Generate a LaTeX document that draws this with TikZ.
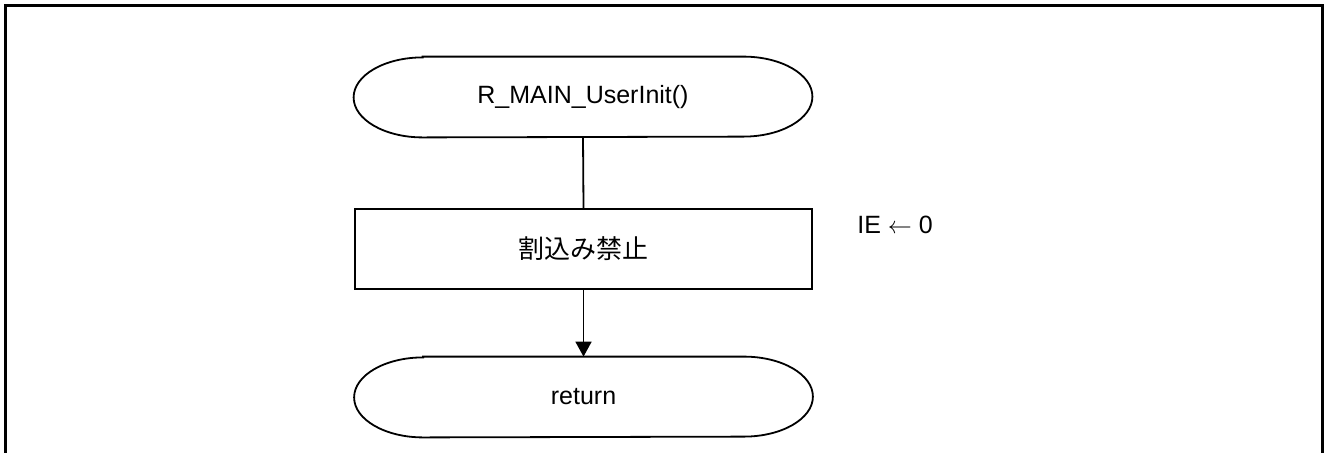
\documentclass[tikz,border=0pt]{standalone}
\usepackage{fontspec}
\setmainfont{Liberation Sans}
\newfontfamily\cjk{Noto Sans CJK JP}
\usetikzlibrary{arrows.meta}
\newcommand\termoutline[1]{%
  \draw[shapeline] ([xshift=34.5pt]#1.north west) -- ([xshift=-34.5pt]#1.north east)
    arc[start angle=90,end angle=-90,x radius=34.5pt,y radius=20pt]
    -- ([xshift=34.5pt]#1.south west)
    arc[start angle=270,end angle=90,x radius=34.5pt,y radius=20pt] -- cycle;}
\begin{document}
\begin{tikzpicture}[x=0.5pt,y=-0.5pt,
  shapeline/.style={draw=black,line width=0.9pt},
  terminal/.style={minimum width=229pt,minimum height=40pt,inner sep=0pt,font=\fontsize{12.5}{15}\selectfont},
  procbox/.style={shapeline,minimum width=228.5pt,minimum height=40pt,inner sep=0pt,font=\cjk\fontsize{13}{15}\selectfont},
  note/.style={inner sep=0pt,anchor=west,font=\fontsize{12.5}{15}\selectfont},
  conn/.style={draw=black,line width=0.9pt}]
\useasboundingbox (0,0) rectangle (1325,452);
\draw[line width=1.5pt] (5,460) -- (5,5) -- (1322,5) -- (1322,460);
\node[terminal] (start) at (583,97) {R\_MAIN\_UserInit()};
\termoutline{start}
\node[procbox] (dis) at (583.5,249) {割込み禁止};
\node[note] (ie) at (857,224.5) {IE \(\leftarrow\) 0};
\node[terminal] (ret) at (583.5,397) {return};
\termoutline{ret}
\draw[conn] (start.south) -- (dis.north);
\draw[conn,-{Triangle[length=7.5pt,width=8pt]}] (dis.south) -- (ret.north);
\end{tikzpicture}
\end{document}
